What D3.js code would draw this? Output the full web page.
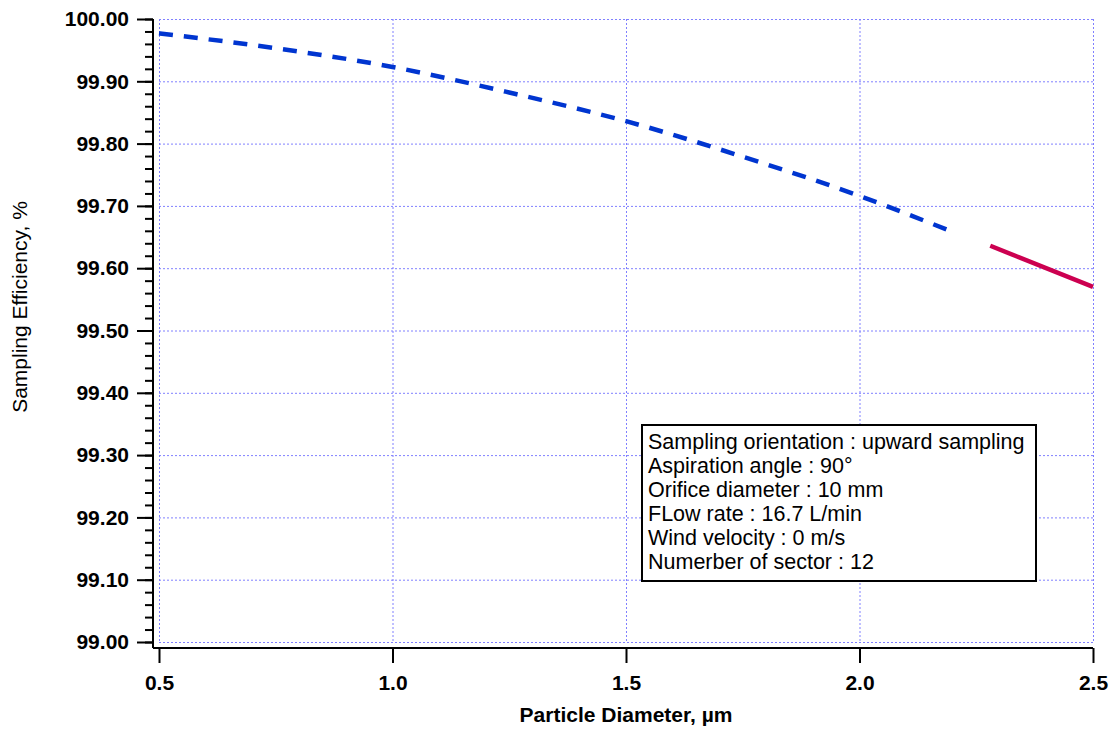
<!DOCTYPE html>
<html><head><meta charset="utf-8">
<script src="https://cdn.jsdelivr.net/npm/d3@7"></script>
<style>body{margin:0;background:#fff}svg{display:block}text{font-family:Arial,"Liberation Sans",sans-serif}</style>
</head><body>
<svg id="c" width="1115" height="729"></svg>
<script>
const xTicks = [0.5, 1.0, 1.5, 2.0, 2.5];
const yTicks = [99.0, 99.1, 99.2, 99.3, 99.4, 99.5, 99.6, 99.7, 99.8, 99.9, 100.0];
const blueX = [0.5, 0.75, 1.0, 1.25, 1.5, 1.75, 2.0, 2.2];
const blueY = [99.977, 99.953, 99.923, 99.882, 99.836, 99.779, 99.716, 99.658];
const redX = [2.28, 2.5];
const redY = [99.636, 99.570];
const legendLines = [
  "Sampling orientation : upward sampling",
  "Aspiration angle : 90°",
  "Orifice diameter : 10 mm",
  "FLow rate : 16.7 L/min",
  "Wind velocity : 0 m/s",
  "Numerber of sector : 12"
];

const FONT = "Arial, 'Liberation Sans', sans-serif";
const svg = d3.select("#c");
const x = d3.scaleLinear().domain([0.5, 2.5]).range([159, 1093]);
const y = d3.scaleLinear().domain([99.0, 100.0]).range([642, 19]);

// grid
const grid = svg.append("g").attr("stroke", "#8080ff").attr("stroke-width", 1).attr("stroke-dasharray", "2,2");
grid.selectAll(".gx").data(xTicks).join("line")
  .attr("x1", d => x(d) + 0.5).attr("x2", d => x(d) + 0.5).attr("y1", 19).attr("y2", 642);
grid.selectAll(".gy").data(yTicks).join("line")
  .attr("y1", d => y(d) + 0.5).attr("y2", d => y(d) + 0.5).attr("x1", 159).attr("x2", 1093);

// y axis
const yMinor = d3.range(0, 51).map(i => 99.0 + i * 0.02);
const yAx = svg.append("g").attr("transform", "translate(153,0)");
yAx.call(d3.axisLeft(y).tickValues(yMinor).tickSize(8).tickFormat(""));
yAx.selectAll(".tick line").attr("stroke-width", 2);
yAx.select(".domain").remove();
const yMaj = svg.append("g").attr("transform", "translate(153,0)");
yMaj.call(d3.axisLeft(y).tickValues(yTicks).tickSize(16).tickPadding(8).tickFormat(d3.format(".2f")));
yMaj.selectAll(".tick line").attr("stroke-width", 2);
yMaj.selectAll(".tick text").attr("font-size", 21).attr("font-weight", "bold").attr("fill", "#000")
  .attr("font-family", FONT);
yMaj.select(".domain").attr("stroke-width", 2).attr("d", "M0,648V19");

// x axis
const xAx = svg.append("g").attr("transform", "translate(0,648)");
xAx.call(d3.axisBottom(x).tickValues(xTicks).tickSize(15).tickPadding(12).tickFormat(d3.format(".1f")));
xAx.select(".domain").attr("stroke-width", 2).attr("d", "M153,0H1093");
xAx.selectAll(".tick line").attr("stroke-width", 2);
xAx.selectAll(".tick text").attr("font-size", 21).attr("font-weight", "bold").attr("fill", "#000")
  .attr("font-family", FONT);

// lines
const line = d3.line().x(d => x(d[0])).y(d => y(d[1])).curve(d3.curveMonotoneX);
svg.append("path").datum(blueX.map((v, i) => [v, blueY[i]]))
  .attr("d", line).attr("fill", "none").attr("stroke", "#0035d0").attr("stroke-width", 4.5)
  .attr("stroke-dasharray", "14,11");
svg.append("path").datum(redX.map((v, i) => [v, redY[i]]))
  .attr("d", d3.line().x(d => x(d[0])).y(d => y(d[1]))).attr("fill", "none")
  .attr("stroke", "#cc0050").attr("stroke-width", 4.5);

// axis titles
svg.append("text").attr("x", 626).attr("y", 722).attr("text-anchor", "middle")
  .attr("font-size", 21).attr("font-weight", "bold").text("Particle Diameter, µm");
svg.append("text").attr("transform", "translate(27,307) rotate(-90)").attr("text-anchor", "middle")
  .attr("font-size", 21).text("Sampling Efficiency, %");

// legend
const lg = svg.append("g");
lg.append("rect").attr("x", 642).attr("y", 425).attr("width", 394).attr("height", 156)
  .attr("fill", "#fff").attr("stroke", "#000").attr("stroke-width", 2);
lg.selectAll("text").data(legendLines).join("text")
  .attr("x", 648).attr("y", (d, i) => 449 + i * 24)
  .attr("font-size", 21.5).attr("fill", "#000").text(d => d);
</script>
</body></html>
